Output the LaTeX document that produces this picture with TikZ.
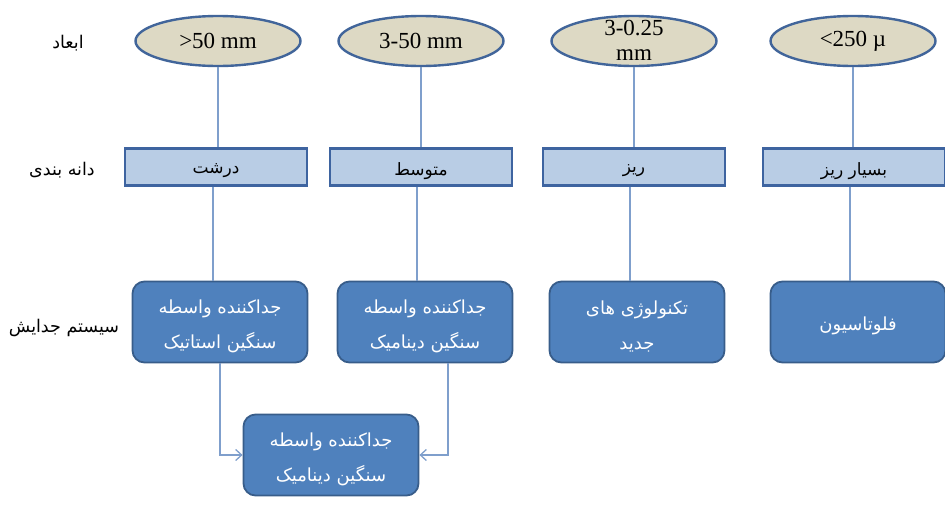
\documentclass[tikz,border=0pt]{standalone}
\usepackage{fontspec}
\setmainfont{Liberation Serif}
\newfontfamily\arabicfont[Script=Arabic]{DejaVu Sans}
\TeXXeTstate=1
\usetikzlibrary{shapes.geometric,arrows.meta}
% right-to-left Persian text, set slightly below its natural baseline
\newcommand{\fa}[1]{\raisebox{-4pt}[\height][\depth]{\arabicfont\beginR #1\endR}}
\definecolor{sizefill}{HTML}{DDD9C4}
\definecolor{sizeedge}{HTML}{41659A}
\definecolor{gradefill}{HTML}{B9CDE5}
\definecolor{gradeedge}{HTML}{3E64A0}
\definecolor{sysfill}{HTML}{4F81BD}
\definecolor{sysedge}{HTML}{385D8A}
\definecolor{linkcol}{HTML}{7F9FCC}
\tikzset{
  sizenode/.style={ellipse, draw=sizeedge, line width=2.4pt, fill=sizefill,
    minimum width=165pt, minimum height=50pt, inner sep=0pt,
    font=\fontsize{23}{24}\selectfont, align=center},
  sizetext/.style={inner sep=0pt, font=\fontsize{23}{25}\selectfont, align=center},
  gradenode/.style={rectangle, draw=gradeedge, line width=2.4pt, fill=gradefill,
    minimum width=182pt, minimum height=37pt, inner sep=0pt,
    font=\fontsize{17}{17}\selectfont},
  sysnode/.style={rectangle, rounded corners=12pt, draw=sysedge, line width=1.8pt,
    fill=sysfill, text=white, minimum width=175pt, minimum height=81pt,
    inner sep=0pt, align=center, font=\fontsize{18}{35}\selectfont},
  rowlabel/.style={font=\fontsize{17.5}{17.5}\selectfont, text=black},
  link/.style={draw=linkcol, line width=1.3pt},
  arrowlink/.style={link, -{Straight Barb[length=6pt,width=11pt]}}
}
\begin{document}
\begin{tikzpicture}[x=1pt,y=-1pt]
\useasboundingbox (0,0) rectangle (945,507);

% row labels
\node[rowlabel] (lblsize) at (68,39) {\fa{ابعاد}};
\node[rowlabel] (lblgrade) at (62,166) {\fa{دانه بندی}};
\node[rowlabel] (lblsys) at (64,324) {\fa{سیستم جدایش}};

% particle sizes
\node[sizenode] (s1) at (218,41) {>50 mm};
\node[sizenode] (s2) at (421,41) {3-50 mm};
\node[sizenode] (s3) at (634,41) {};
\node[sizetext] (s3t) at (634,40) {3-0.25\\mm};
\node[sizenode] (s4) at (853,41) {<250 µ};

% size classes
\node[gradenode] (g1) at (216,167) {\fa{درشت}};
\node[gradenode] (g2) at (421,167) {\fa{متوسط}};
\node[gradenode] (g3) at (634,167) {\fa{ریز}};
\node[gradenode] (g4) at (854,167) {\fa{بسیار ریز}};

% separation systems
\node[sysnode] (b1) at (220,322) {\fa{جداکننده واسطه}\\\fa{سنگین استاتیک}};
\node[sysnode] (b2) at (425,322) {\fa{جداکننده واسطه}\\\fa{سنگین دینامیک}};
\node[sysnode] (b3) at (637,322) {\fa{تکنولوژی های}\\\fa{جدید}};
\node[sysnode] (b4) at (858,322) {\fa{فلوتاسیون}};
\node[sysnode] (b5) at (331,455) {\fa{جداکننده واسطه}\\\fa{سنگین دینامیک}};

% vertical links
\draw[link] (s1.south) -- (s1.south |- g1.north);
\draw[link] (s2.south) -- (s2.south |- g2.north);
\draw[link] (s3.south) -- (s3.south |- g3.north);
\draw[link] (s4.south) -- (s4.south |- g4.north);
\draw[link] (g1.south -| 213,0) -- (b1.north -| 213,0);
\draw[link] (g2.south -| 417,0) -- (b2.north -| 417,0);
\draw[link] (g3.south -| 630,0) -- (b3.north -| 630,0);
\draw[link] (g4.south -| 850,0) -- (b4.north -| 850,0);

% routes into the lower separator
\draw[arrowlink] (b1.south -| 220,0) |- (b5.west);
\draw[arrowlink] (b2.south -| 448,0) |- (b5.east);
\end{tikzpicture}
\end{document}
